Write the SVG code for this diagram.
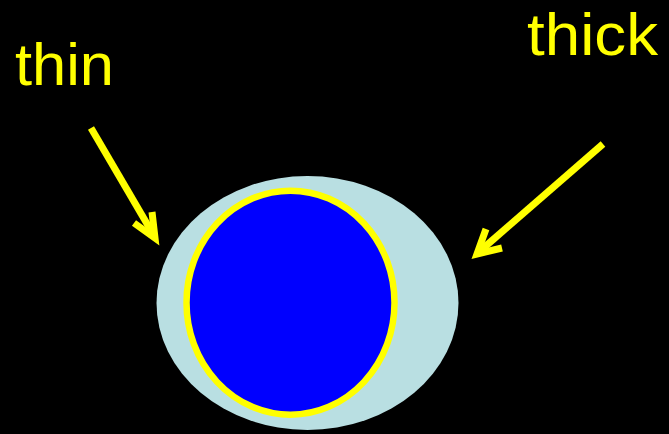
<svg xmlns="http://www.w3.org/2000/svg" width="669" height="434" viewBox="0 0 669 434">
<style>
.lbl{font-family:"Liberation Sans",Arial,sans-serif;fill:#ffff00}
.arr{stroke:#ffff00;stroke-width:7;fill:none;stroke-linecap:butt;stroke-linejoin:miter}
</style>
<rect width="669" height="434" fill="#000"/>
<g id="outer"><ellipse cx="307.5" cy="303" rx="151" ry="127" fill="#b9dfe2"/></g>
<g id="inner"><ellipse cx="290.5" cy="302.7" rx="104" ry="112" fill="#0000ff" stroke="#ffff00" stroke-width="6.5"/></g>
<g id="label-thin"><text class="lbl" x="15" y="85" font-size="60" textLength="99" lengthAdjust="spacingAndGlyphs">thin</text></g>
<g id="label-thick"><text class="lbl" x="527" y="55" font-size="60" textLength="131" lengthAdjust="spacingAndGlyphs">thick</text></g>
<g id="connectors">
<path class="arr" d="M91,128 L153,234"/>
<path class="arr" d="M134,223 L155,238 L152,212"/>
<path class="arr" d="M603,144 L480,251"/>
<path class="arr" d="M486,229 L477,254 L502,248"/>
</g>
</svg>
